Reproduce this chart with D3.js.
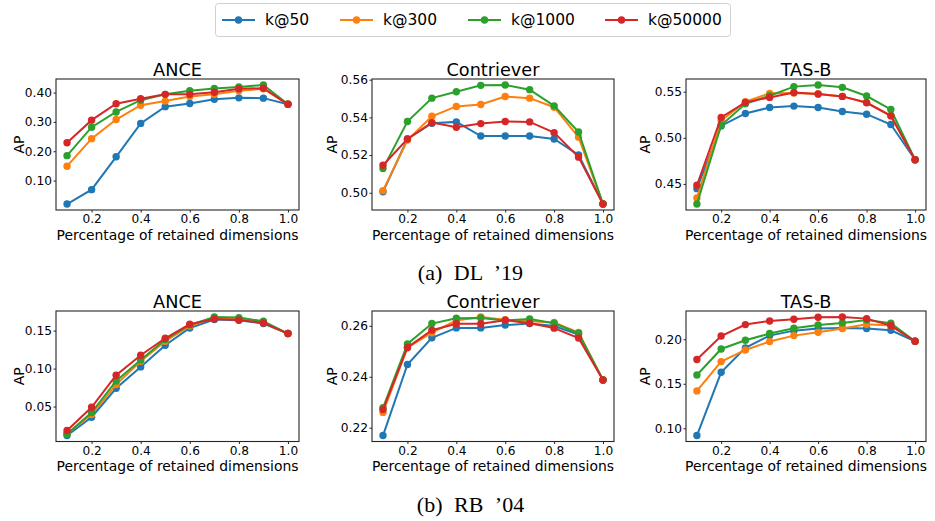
<!DOCTYPE html>
<html><head><meta charset="utf-8">
<script src="https://cdn.jsdelivr.net/npm/d3@7"></script>
<style>body{margin:0;background:#fff}svg{display:block}</style>
</head><body>
<svg id="chart" width="935" height="521"></svg>
<script>
// ---------- data ----------
const retained = [0.1,0.2,0.3,0.4,0.5,0.6,0.7,0.8,0.9,1.0];
const seriesNames = ["k@50","k@300","k@1000","k@50000"];
const seriesColors = ["#1f77b4","#ff7f0e","#2ca02c","#d62728"];
const xTickValues = [0.2,0.4,0.6,0.8,1.0];

const dl19Ance = [
  [0.020,0.069,0.181,0.295,0.352,0.363,0.377,0.382,0.381,0.360],
  [0.149,0.243,0.308,0.357,0.371,0.387,0.394,0.406,0.413,0.360],
  [0.185,0.282,0.334,0.374,0.394,0.406,0.414,0.419,0.426,0.360],
  [0.229,0.306,0.362,0.379,0.394,0.394,0.401,0.413,0.415,0.360]
];
const dl19Contriever = [
  [0.5005,0.5285,0.5369,0.5376,0.5301,0.5301,0.5301,0.5285,0.5201,0.4940],
  [0.5011,0.5280,0.5406,0.5458,0.5468,0.5511,0.5502,0.5454,0.5295,0.4940],
  [0.5128,0.5378,0.5502,0.5536,0.5570,0.5572,0.5547,0.5461,0.5322,0.4940],
  [0.5146,0.5285,0.5372,0.5347,0.5367,0.5378,0.5376,0.5319,0.5189,0.4940]
];
const dl19Tasb = [
  [0.4449,0.5129,0.5264,0.5329,0.5344,0.5329,0.5285,0.5256,0.5144,0.4762],
  [0.4347,0.5184,0.5391,0.5482,0.5485,0.5475,0.5449,0.5384,0.5238,0.4762],
  [0.4282,0.5136,0.5369,0.5456,0.5555,0.5573,0.5547,0.5453,0.5307,0.4762],
  [0.4486,0.5220,0.5384,0.5438,0.5490,0.5475,0.5449,0.5380,0.5238,0.4762]
];
const rb04Ance = [
  [0.0118,0.0360,0.0741,0.1022,0.1307,0.1535,0.1645,0.1636,0.1592,0.1461],
  [0.0145,0.0395,0.0789,0.1096,0.1360,0.1561,0.1667,0.1649,0.1610,0.1461],
  [0.0140,0.0421,0.0838,0.1114,0.1382,0.1575,0.1680,0.1671,0.1623,0.1461],
  [0.0184,0.0491,0.0912,0.1175,0.1399,0.1583,0.1654,0.1640,0.1601,0.1461]
];
const rb04Contriever = [
  [0.2169,0.2448,0.2553,0.2592,0.2592,0.2603,0.2609,0.2599,0.2566,0.2387],
  [0.2260,0.2514,0.2573,0.2621,0.2635,0.2624,0.2618,0.2613,0.2574,0.2387],
  [0.2278,0.2529,0.2609,0.2630,0.2631,0.2621,0.2627,0.2610,0.2571,0.2387],
  [0.2271,0.2515,0.2583,0.2608,0.2608,0.2622,0.2610,0.2591,0.2552,0.2387]
];
const rb04Tasb = [
  [0.0918,0.1629,0.1903,0.2041,0.2097,0.2120,0.2127,0.2120,0.2101,0.1978],
  [0.1420,0.1749,0.1880,0.1974,0.2041,0.2079,0.2120,0.2169,0.2154,0.1978],
  [0.1599,0.1891,0.1989,0.2064,0.2124,0.2161,0.2184,0.2217,0.2180,0.1978],
  [0.1772,0.2037,0.2165,0.2206,0.2225,0.2247,0.2251,0.2232,0.2154,0.1978]
];

const yTicksDl19Ance = [0.10,0.20,0.30,0.40];
const yTicksDl19Contriever = [0.50,0.52,0.54,0.56];
const yTicksDl19Tasb = [0.45,0.50,0.55];
const yTicksRb04Ance = [0.05,0.10,0.15];
const yTicksRb04Contriever = [0.22,0.24,0.26];
const yTicksRb04Tasb = [0.10,0.15,0.20];

const modelTitles = ["ANCE","Contriever","TAS-B"];
const captions = ["(a) DL \u201919","(b) RB \u201904"];
const xLabel = "Percentage of retained dimensions";
const yLabel = "AP";

// ---------- layout ----------
const colX = [[56,299],[372,614],[686,926]];
const rowY = [[79,210],[311,441.5]];
const apX = [19,332,645];
const captionY = [279.5,511.5];

const grid = [
  [dl19Ance, dl19Contriever, dl19Tasb],
  [rb04Ance, rb04Contriever, rb04Tasb]
];
const gridTicks = [
  [yTicksDl19Ance, yTicksDl19Contriever, yTicksDl19Tasb],
  [yTicksRb04Ance, yTicksRb04Contriever, yTicksRb04Tasb]
];

const svg = d3.select("#chart");
const FONT = "DejaVu Sans, sans-serif";
const frameColor = "#262626";

grid.forEach((row, r) => {
  row.forEach((values, c) => {
    const [x0,x1] = colX[c], [y0,y1] = rowY[r];
    const x = d3.scaleLinear().domain([0.055,1.045]).range([x0,x1]);
    const all = values.flat();
    const mn = d3.min(all), mx = d3.max(all), pad = (mx-mn)*0.05;
    const y = d3.scaleLinear().domain([mn-pad, mx+pad]).range([y1,y0]);
    const g = svg.append("g");

    const xa = g.append("g").attr("transform",`translate(0,${y1})`)
      .call(d3.axisBottom(x).tickValues(xTickValues).tickFormat(d3.format(".1f")).tickSize(2.5).tickPadding(2));
    xa.select(".domain").remove();
    xa.selectAll("line").attr("stroke",frameColor);
    xa.selectAll("text").attr("font-family",FONT).attr("font-size",12.2).attr("fill","#000");

    const ya = g.append("g").attr("transform",`translate(${x0},0)`)
      .call(d3.axisLeft(y).tickValues(gridTicks[r][c]).tickFormat(d3.format(".2f")).tickSize(2.5).tickPadding(1.5));
    ya.select(".domain").remove();
    ya.selectAll("line").attr("stroke",frameColor);
    ya.selectAll("text").attr("font-family",FONT).attr("font-size",12.2).attr("fill","#000");

    const line = d3.line().x((d,i)=>x(retained[i])).y(d=>y(d));
    const plot = g.append("g");
    values.forEach((s, si) => {
      plot.append("path").datum(s).attr("d",line).attr("fill","none")
        .attr("stroke",seriesColors[si]).attr("stroke-width",2);
      plot.selectAll(null).data(s).enter().append("circle")
        .attr("cx",(d,i)=>x(retained[i])).attr("cy",d=>y(d)).attr("r",3.7)
        .attr("fill",seriesColors[si]);
    });

    g.append("rect").attr("x",x0).attr("y",y0).attr("width",x1-x0).attr("height",y1-y0)
      .attr("fill","none").attr("stroke",frameColor).attr("stroke-width",1.1);

    g.append("text").attr("x",(x0+x1)/2).attr("y",y0-3).attr("text-anchor","middle")
      .attr("font-family",FONT).attr("font-size",17.7).text(modelTitles[c]);
    g.append("text").attr("x",(x0+x1)/2).attr("y",y1+29.5).attr("text-anchor","middle")
      .attr("font-family",FONT).attr("font-size",13.9).text(xLabel);
    g.append("text").attr("transform",`translate(${apX[c]},${(y0+y1)/2}) rotate(-90)`)
      .attr("text-anchor","middle").attr("dominant-baseline","central")
      .attr("font-family",FONT).attr("font-size",13.9).text(yLabel);
  });
  svg.append("text").attr("x",470.5).attr("y",captionY[r]).attr("text-anchor","middle")
    .attr("font-family","Liberation Serif, serif").attr("font-size",22)
    .attr("word-spacing",6).text(captions[r]);
});

// ---------- legend ----------
const legend = svg.append("g");
legend.append("rect").attr("x",215.5).attr("y",3.5).attr("width",515).attr("height",33).attr("rx",3)
  .attr("fill","#fff").attr("stroke","#d0d0d0").attr("stroke-width",1);
const legendX = [222,340,468,605];
seriesNames.forEach((name, i) => {
  const lx = legendX[i];
  legend.append("line").attr("x1",lx).attr("x2",lx+33).attr("y1",20).attr("y2",20)
    .attr("stroke",seriesColors[i]).attr("stroke-width",2.2);
  legend.append("circle").attr("cx",lx+16.5).attr("cy",20).attr("r",3.7).attr("fill",seriesColors[i]);
  legend.append("text").attr("x",lx+43).attr("y",20).attr("dominant-baseline","central")
    .attr("font-family",FONT).attr("font-size",15.5).text(name);
});
</script>
</body></html>
